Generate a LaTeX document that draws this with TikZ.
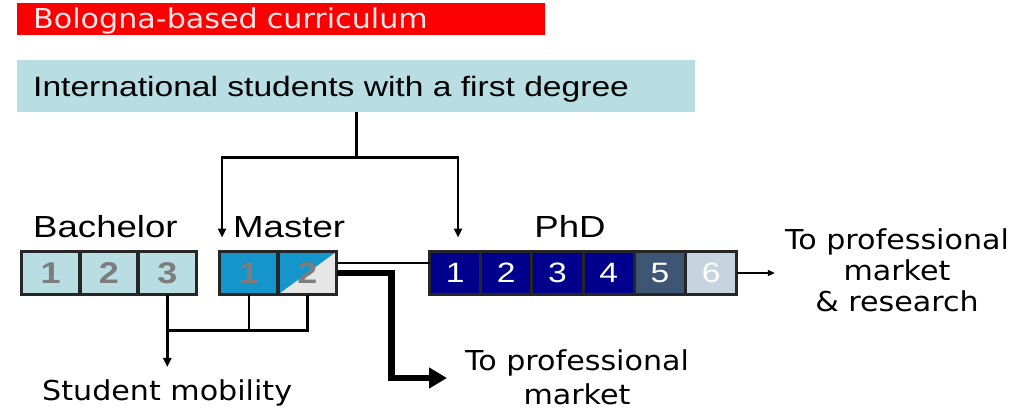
\documentclass[tikz,border=0pt]{standalone}
\usepackage{fontspec}
\setmainfont{Liberation Sans}
\newfontfamily\arialw[FakeStretch=1.2]{Liberation Sans}
\newfontfamily\verdw[FakeStretch=1.1]{DejaVu Sans}
\usepackage{tikz}
\usetikzlibrary{arrows.meta,positioning}

\definecolor{bolored}{RGB}{250,0,0}
\definecolor{paleteal}{RGB}{184,221,226}
\definecolor{mastblue}{RGB}{20,150,205}
\definecolor{mastgray}{RGB}{230,230,230}
\definecolor{phdnavy}{RGB}{0,0,140}
\definecolor{phdslate}{RGB}{60,86,116}
\definecolor{phdpale}{RGB}{198,212,224}
\definecolor{numgray}{RGB}{125,125,125}

\begin{document}
\begin{tikzpicture}[x=1pt, y=-1pt,
  banner/.style={fill=bolored, text=white!90!red, text height=25pt, text depth=7pt,
                 text width=496pt, inner xsep=16pt, inner ysep=0pt, align=left,
                 font=\verdw\fontsize{27.4}{30}\selectfont},
  intlbar/.style={fill=paleteal, text height=36pt, text depth=16pt, text width=646pt,
                  inner xsep=16pt, inner ysep=0pt, align=left,
                  font=\arialw\fontsize{28}{30}\selectfont},
  lbl/.style={inner sep=0pt, font=\arialw\fontsize{30.5}{32}\selectfont},
  note/.style={inner sep=0pt, font=\verdw\fontsize{27.4}{31}\selectfont},
  cell/.style={draw=black!85, line width=3.5pt, minimum height=43pt,
               inner sep=0pt, outer sep=0pt, text=numgray,
               font=\arialw\bfseries\fontsize{30}{30}\selectfont},
  bcell/.style={cell, fill=paleteal, minimum width=58.3pt},
  mcell/.style={cell, fill=mastblue, minimum width=58.5pt},
  mhalf/.style={mcell, fill=mastgray,
    path picture={\fill[mastblue] (path picture bounding box.north west)
      -- (path picture bounding box.north east)
      -- (path picture bounding box.south west) -- cycle;}},
  pcell/.style={cell, line width=3pt, fill=phdnavy, minimum width=51.2pt,
                text=white, font=\arialw\fontsize{28}{28}\selectfont},
  conn/.style={line width=2.6pt},
  tip/.style={-{Triangle[length=9pt,width=8pt]}},
]
\useasboundingbox (0,0) rectangle (1023,408);

% --- Headings ---
\node[banner, anchor=north west] (title) at (17,3) {Bologna-based curriculum};
\node[intlbar, anchor=north west] (intl) at (17,60) {International students with a first degree};

% --- Bachelor ---
\node[bcell] (b1) at (50.7,273) {1};
\node[bcell, right=0pt of b1] (b2) {2};
\node[bcell, right=0pt of b2] (b3) {3};
\node[lbl, anchor=base west] (bachlbl) at (33,237) {Bachelor};

% --- Master ---
\node[mcell] (m1) at (248.8,273) {1};
\node[mhalf, right=0pt of m1] (m2) {2};
\node[lbl, anchor=base west] (mastlbl) at (233,237) {Master};

% --- PhD ---
\node[pcell] (p1) at (455.1,273) {1};
\node[pcell, right=0pt of p1] (p2) {2};
\node[pcell, right=0pt of p2] (p3) {3};
\node[pcell, right=0pt of p3] (p4) {4};
\node[pcell, fill=phdslate, right=0pt of p4] (p5) {5};
\node[pcell, fill=phdpale, right=0pt of p5] (p6) {6};
\node[lbl, anchor=base] (phdlbl) at (570,237) {PhD};

% --- Outcomes ---
\node[note, anchor=base west] (mob) at (42,400) {Student mobility};
\node[note, align=center, anchor=north, font=\verdw\fontsize{27.4}{34}\selectfont]
  (profm) at (577,349) {To professional\\market};
\node[note, align=center, anchor=north, inner xsep=10pt]
  (profr) at (897,228) {To professional\\market\\\& research};
\coordinate (pmtip) at (447,378);

% --- Arrows ---
\draw[conn] (intl.south) -- ++(0,45) coordinate (fork);
\draw[conn, tip] (fork) -| ([xshift=2.5pt,yshift=14pt]m1.north west);
\draw[conn, tip] (fork) -| ([xshift=3pt,yshift=14pt]p1.north);

\draw[conn] (m1.south) -- ++(0,36) coordinate (join);
\draw[conn] (m2.south) |- (join) -- (join -| b3.south);
\draw[conn, tip] (b3.south) -- ([yshift=12pt]b3.south |- mob.north);

\draw[line width=2pt] ([yshift=10pt]m2.east) -- ([yshift=10pt]p1.west);
\draw[line width=6.5pt, -{Triangle[length=18pt,width=20pt]}]
  (m2.east) -- ++(55,0) |- (pmtip);
\draw[line width=1.6pt, -{Triangle[length=7pt,width=6pt]}]
  (p6.east) -- (p6.east -| profr.west);
\end{tikzpicture}
\end{document}
